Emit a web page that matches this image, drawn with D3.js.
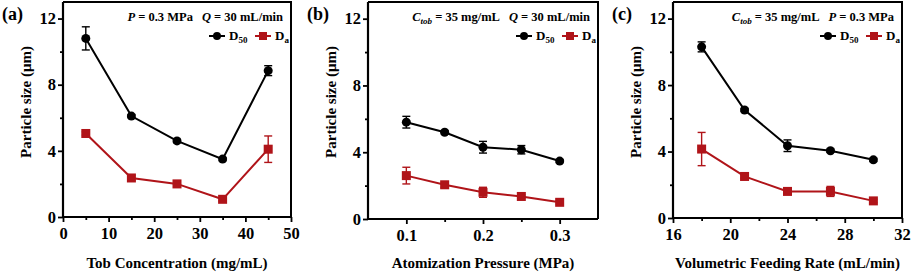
<!DOCTYPE html>
<html>
<head>
<meta charset="utf-8">
<script src="https://cdn.jsdelivr.net/npm/d3@7"></script>
<style>
  body { margin: 0; background: #fff; }
  svg text { font-family: "Liberation Serif", "DejaVu Serif", "Times New Roman", serif !important; font-weight: bold; }
</style>
</head>
<body>
<div id="chart"></div>
<script>
// ---- data ----
const tobConc = [5, 15, 25, 35, 45];
const d50Tob = [10.8, 6.1, 4.6, 3.5, 8.85];
const d50TobErr = [0.7, 0.1, 0.1, 0.1, 0.3];
const daTob = [5.05, 2.36, 2.0, 1.07, 4.1];
const daTobErr = [0.1, 0.15, 0.2, 0.1, 0.8];

const pressure = [0.1, 0.15, 0.2, 0.25, 0.3];
const d50P = [5.8, 5.2, 4.3, 4.15, 3.47];
const d50PErr = [0.35, 0.1, 0.35, 0.25, 0.1];
const daP = [2.6, 2.05, 1.6, 1.35, 1.0];
const daPErr = [0.5, 0.15, 0.3, 0.1, 0.1];

const feedRate = [18, 21, 24, 27, 30];
const d50Q = [10.3, 6.5, 4.35, 4.05, 3.5];
const d50QErr = [0.3, 0.1, 0.35, 0.1, 0.1];
const daQ = [4.15, 2.5, 1.6, 1.6, 1.03];
const daQErr = [1.0, 0.1, 0.1, 0.3, 0.1];

const yTicks = [0, 4, 8, 12];
const yMinor = [2, 6, 10];

const black = "#000";
const red = "#b01419";

const svg = d3.select("#chart").append("svg")
  .attr("width", 913)
  .attr("height", 274);

function drawPanel(p) {
  const x = d3.scaleLinear().domain(p.xDomain).range([p.left, p.right]);
  const y = d3.scaleLinear().domain([0, 13]).range([p.bottom, p.top]);
  const g = svg.append("g");

  // frame (top + right)
  g.append("path")
    .attr("d", `M${p.left},${p.top}H${p.right}V${p.bottom}`)
    .attr("fill", "none").attr("stroke", black).attr("stroke-width", 2);

  // axes
  const xAxis = g.append("g")
    .attr("transform", `translate(0,${p.bottom})`)
    .call(d3.axisBottom(x).tickValues(p.xTicks).tickFormat(p.xFormat).tickSize(5).tickPadding(5));
  g.append("g")
    .attr("transform", `translate(0,${p.bottom})`)
    .call(d3.axisBottom(x).tickValues(p.xMinor).tickFormat("").tickSize(3))
    .select(".domain").remove();
  const yAxis = g.append("g")
    .attr("transform", `translate(${p.left},0)`)
    .call(d3.axisLeft(y).tickValues(yTicks).tickSize(5).tickPadding(2));
  g.append("g")
    .attr("transform", `translate(${p.left},0)`)
    .call(d3.axisLeft(y).tickValues(yMinor).tickFormat("").tickSize(3))
    .select(".domain").remove();

  g.selectAll(".domain").attr("stroke-width", 2.2);
  g.selectAll(".tick line").attr("stroke-width", 1.8);
  g.selectAll(".tick text")
    .attr("font-size", 16.5).attr("fill", black);
  // domain path without end ticks
  xAxis.select(".domain").attr("d", `M${p.left},0H${p.right}`);
  yAxis.select(".domain").attr("d", `M0,${p.bottom}V${p.top}`);

  // series
  const series = [
    { v: p.d50, e: p.d50Err, color: black, shape: "circle" },
    { v: p.da, e: p.daErr, color: red, shape: "square" }
  ];
  series.forEach(s => {
    const pts = p.xs.map((xv, i) => ({ x: xv, y: s.v[i], e: s.e[i] }));
    g.append("path").datum(pts)
      .attr("fill", "none").attr("stroke", s.color).attr("stroke-width", 2)
      .attr("d", d3.line().x(d => x(d.x)).y(d => y(d.y)));
    const eb = g.append("g").attr("stroke", s.color).attr("stroke-width", 1.4);
    eb.selectAll(".v").data(pts).join("line")
      .attr("x1", d => x(d.x)).attr("x2", d => x(d.x))
      .attr("y1", d => y(d.y + d.e)).attr("y2", d => y(d.y - d.e));
    eb.selectAll(".t").data(pts).join("line")
      .attr("x1", d => x(d.x) - 4).attr("x2", d => x(d.x) + 4)
      .attr("y1", d => y(d.y + d.e)).attr("y2", d => y(d.y + d.e));
    eb.selectAll(".b").data(pts).join("line")
      .attr("x1", d => x(d.x) - 4).attr("x2", d => x(d.x) + 4)
      .attr("y1", d => y(d.y - d.e)).attr("y2", d => y(d.y - d.e));
    if (s.shape === "circle") {
      g.selectAll(null).data(pts).join("circle")
        .attr("cx", d => x(d.x)).attr("cy", d => y(d.y)).attr("r", 4.5)
        .attr("fill", s.color);
    } else {
      g.selectAll(null).data(pts).join("rect")
        .attr("x", d => x(d.x) - 4.5).attr("y", d => y(d.y) - 4.5)
        .attr("width", 9).attr("height", 9)
        .attr("fill", s.color);
    }
  });

  // panel label
  svg.append("text").attr("x", p.left - 61).attr("y", 20)
    .attr("font-size", 18).text(p.label);

  // y label
  svg.append("text")
    .attr("transform", `translate(${p.left - 32},102) rotate(-90)`)
    .attr("text-anchor", "middle").attr("font-size", 15)
    .text("Particle size (μm)");

  // x label
  svg.append("text")
    .attr("x", (p.left + p.right) / 2).attr("y", 268)
    .attr("text-anchor", "middle").attr("font-size", 15)
    .text(p.xLabel);

  // condition annotation
  const ann = svg.append("text")
    .attr("x", p.right - 8).attr("y", 21)
    .attr("text-anchor", "end").attr("font-size", 12.5);
  p.ann.forEach(part => {
    const t = ann.append("tspan").text(part.t);
    if (part.i) t.attr("font-style", "italic");
    if (part.sub) t.attr("font-size", 9).attr("dy", 3);
    if (part.up) t.attr("dy", -3);
    if (part.gap) t.attr("dx", 9);
  });

  // legend
  const ly = 36;
  const lx = p.right - 74;
  const leg = [
    { color: black, shape: "circle", name: "D", sub: "50", x: lx },
    { color: red, shape: "square", name: "D", sub: "a", x: lx + 46 }
  ];
  leg.forEach(l => {
    svg.append("line").attr("x1", l.x - 8).attr("x2", l.x + 8)
      .attr("y1", ly).attr("y2", ly).attr("stroke", l.color).attr("stroke-width", 2);
    if (l.shape === "circle") {
      svg.append("circle").attr("cx", l.x).attr("cy", ly).attr("r", 4).attr("fill", l.color);
    } else {
      svg.append("rect").attr("x", l.x - 4).attr("y", ly - 4).attr("width", 8).attr("height", 8).attr("fill", l.color);
    }
    const t = svg.append("text").attr("x", l.x + 12).attr("y", ly + 4).attr("font-size", 13);
    t.append("tspan").text(l.name);
    t.append("tspan").attr("font-size", 9).attr("dy", 3).text(l.sub);
  });
}

drawPanel({
  label: "(a)", left: 63, right: 291, top: 2, bottom: 217,
  xDomain: [0, 50], xTicks: [0, 10, 20, 30, 40, 50], xMinor: [5, 15, 25, 35, 45],
  xFormat: d3.format("d"), xLabel: "Tob Concentration (mg/mL)",
  xs: tobConc, d50: d50Tob, d50Err: d50TobErr, da: daTob, daErr: daTobErr,
  ann: [{ t: "P", i: true }, { t: " = 0.3 MPa" }, { t: "Q", i: true, gap: true }, { t: " = 30 mL/min" }]
});

drawPanel({
  label: "(b)", left: 368, right: 598, top: 2, bottom: 219,
  xDomain: [0.05, 0.35], xTicks: [0.1, 0.2, 0.3], xMinor: [0.15, 0.25],
  xFormat: d3.format(".1f"), xLabel: "Atomization Pressure (MPa)",
  xs: pressure, d50: d50P, d50Err: d50PErr, da: daP, daErr: daPErr,
  ann: [{ t: "C", i: true }, { t: "tob", i: true, sub: true }, { t: " = 35 mg/mL", up: true },
        { t: "Q", i: true, gap: true }, { t: " = 30 mL/min" }]
});

drawPanel({
  label: "(c)", left: 673, right: 902, top: 2, bottom: 218,
  xDomain: [16, 32], xTicks: [16, 20, 24, 28, 32], xMinor: [18, 22, 26, 30],
  xFormat: d3.format("d"), xLabel: "Volumetric Feeding Rate (mL/min)",
  xs: feedRate, d50: d50Q, d50Err: d50QErr, da: daQ, daErr: daQErr,
  ann: [{ t: "C", i: true }, { t: "tob", i: true, sub: true }, { t: " = 35 mg/mL", up: true },
        { t: "P", i: true, gap: true }, { t: " = 0.3 MPa" }]
});
</script>
</body>
</html>
